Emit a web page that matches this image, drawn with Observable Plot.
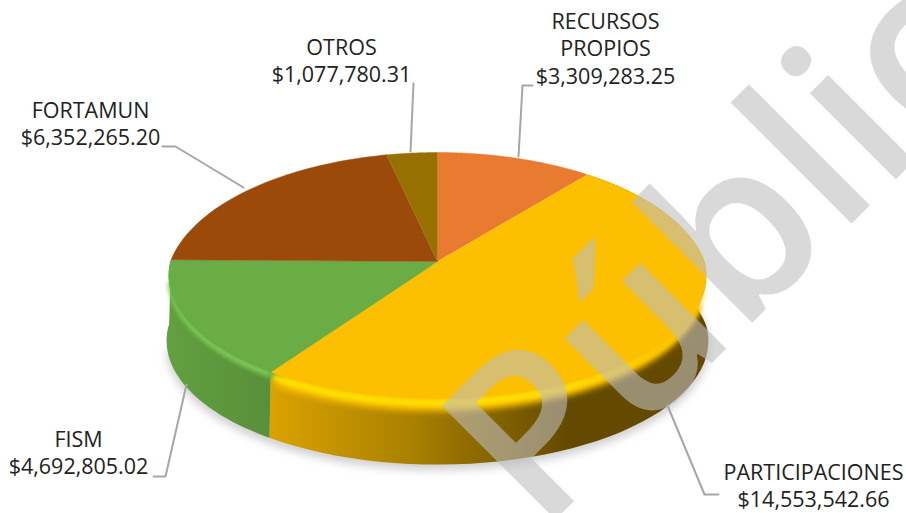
<!DOCTYPE html>
<html><head><meta charset="utf-8">
<script src="https://cdn.jsdelivr.net/npm/d3@7"></script>
<script src="https://cdn.jsdelivr.net/npm/@observablehq/plot@0.6"></script>
<style>html,body{margin:0;padding:0;background:#fff}svg{display:block}</style>
</head><body><div id="chart"></div>
<script>
const categories = ["RECURSOS\nPROPIOS","PARTICIPACIONES","FISM","FORTAMUN","OTROS"];
const values = [3309283.25,14553542.66,4692805.02,6352265.20,1077780.31];
const colors = ["#e97b30","#fcc000","#6aac46","#9c4a09","#967000"];
const watermark = "Público";

// layout of the labels and their leader lines, in chart units
const labelX = [605,813,78,90,341];
const labelY = [47,484,451,122,59];
const leaders = [
  [[532,85],[522,85],[518,156]],
  [[718,494],[704,494],[667,405]],
  [[153,476],[165,476],[186,384]],
  [[162,146],[175,146],[243,187]],
  [[413,83],[410,151]]
];

// tilted-disc projection of the pie (perspective differs a little front and back)
const C = {x:437,y:261,a:267};
function proj(deg,r=1,s=1,dy=0){
  const t=deg*Math.PI/180,u=r*Math.sin(t),v=r*Math.cos(t);
  const k=v>=0?0.18:0.114,b=v>=0?128.6:121.4,w=1+k*v;
  return {x:C.x+s*C.a*u/w,y:C.y-s*b*v/w+dy};
}
const total=d3.sum(values);
let acc=0;
const slices=values.map((v,i)=>{const a0=acc;acc+=v/total*360;return {i,a0,a1:acc,color:colors[i]};});
const arc=(a0,a1,s=1,dy=0)=>d3.range(0,61).map(j=>proj(a0+(a1-a0)*j/60,1,s,dy));
const wedge=(sl,s=1,dy=0)=>[proj(0,0,s,dy),...arc(sl.a0,sl.a1,s,dy)];
const wall=sl=>[...arc(sl.a0,sl.a1,1,0),...arc(sl.a0,sl.a1,1.008,65).reverse()];

const blur=px=>({render(i,s,v,d,c,next){const g=next(i,s,v,d,c);g.style.filter=`blur(${px}px)`;return g;}});
const poly=(pts,fill,extra={})=>Plot.line(pts,{x:"x",y:"y",fill,stroke:"none",...extra});

const defs=()=>{
  const g=d3.create("svg:g");
  g.html(`<defs>
  <linearGradient id="wallY"><stop offset="0" stop-color="#dba300"/><stop offset=".33" stop-color="#a87f00"/><stop offset=".68" stop-color="#644a00"/><stop offset="1" stop-color="#644a00"/></linearGradient>
  <linearGradient id="wallG"><stop offset="0" stop-color="#62a040"/><stop offset="1" stop-color="#598f3a"/></linearGradient>
  <linearGradient id="hiY"><stop offset="0" stop-color="#ffe400"/><stop offset=".65" stop-color="#ffe400"/><stop offset="1" stop-color="#fcc000"/></linearGradient>
  </defs>`);
  return g.node();
};

const marks=[
  defs,
  poly(arc(slices[1].a0+30,slices[2].a1-10,1.012,70),"#d0d0d0",blur(4)),
  poly(wall(slices[1]),"url(#wallY)"),
  poly(wall(slices[2]),"url(#wallG)"),
  poly(wedge(slices[1],0.985,15),"#fcc000",blur(3)),
  poly(wedge(slices[2],0.985,9),"#6aac46",blur(2.5)),
  Plot.line(arc(slices[1].a0+70,slices[1].a1-1,0.995,5),{x:"x",y:"y",stroke:"url(#hiY)",strokeWidth:6,...blur(2)}),
  Plot.line(arc(slices[2].a0+1,slices[2].a1-10,0.995,3),{x:"x",y:"y",stroke:"#7ccb58",strokeWidth:5,...blur(2)}),
  ...slices.map(sl=>poly(wedge(sl),sl.color,{stroke:sl.color,strokeWidth:0.5})),
  ...leaders.map(l=>Plot.line(l.map(([x,y])=>({x,y})),{x:"x",y:"y",stroke:"#a6a6a6",strokeWidth:2})),
  Plot.text(slices,{
    x:d=>labelX[d.i],y:d=>labelY[d.i],
    text:d=>categories[d.i]+"\n"+d3.format("$,.2f")(values[d.i]),
    fontFamily:"'Open Sans'",fontSize:21.5,lineHeight:1.29,fill:"#222"
  }),
  Plot.text([watermark],{x:()=>540,y:()=>534,text:d=>d,rotate:-45,textAnchor:"start",lineAnchor:"bottom",
    fontFamily:"'Open Sans'",fontWeight:600,fontSize:225,fill:"#bebebe",fillOpacity:0.59})
];

const chart=Plot.plot({width:906,height:513,margin:0,
  x:{domain:[0,906],range:[0,906],axis:null},
  y:{domain:[0,513],range:[0,513],axis:null},
  marks});
document.getElementById("chart").append(chart);
</script></body></html>
